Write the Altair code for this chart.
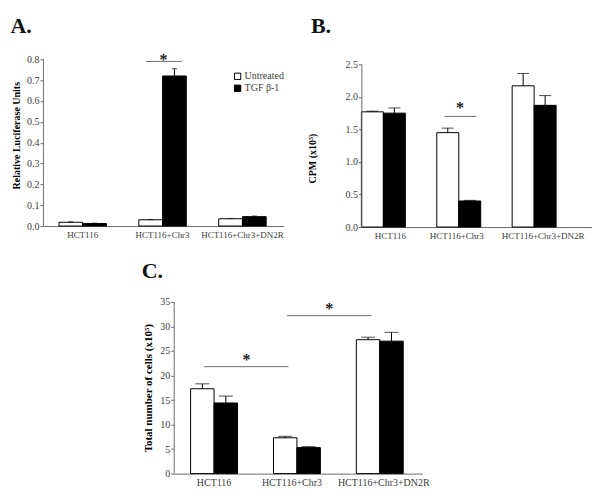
import altair as alt
import pandas as pd

SERIF = "Liberation Serif"
AXIS_GRAY = "#6e6e6e"
LABEL_GRAY = "#3c3c3c"

groups = ["HCT116", "HCT116+Chr3", "HCT116+Chr3+DN2R"]
treatments = ["Untreated", "TGF β-1"]

# Panel A: Relative Luciferase Units
a_untreated = [0.018, 0.030, 0.035]
a_untreated_sd = [0.002, 0.001, 0.001]
a_tgf = [0.012, 0.720, 0.045]
a_tgf_sd = [0.002, 0.035, 0.003]

# Panel B: CPM (x10^5)
b_untreated = [1.77, 1.45, 2.17]
b_untreated_sd = [0.01, 0.07, 0.19]
b_tgf = [1.75, 0.40, 1.87]
b_tgf_sd = [0.08, 0.01, 0.15]

# Panel C: total number of cells (x10^5)
c_untreated = [17.3, 7.3, 27.3]
c_untreated_sd = [1.0, 0.3, 0.5]
c_tgf = [14.4, 5.3, 27.0]
c_tgf_sd = [1.4, 0.2, 1.8]

# significance brackets: (from group, to group, level)
a_sig = [("HCT116+Chr3", "HCT116+Chr3", 0.79)]
b_sig = [("HCT116+Chr3", "HCT116+Chr3", 1.70)]
c_sig = [("HCT116", "HCT116+Chr3", 21.8), ("HCT116+Chr3", "HCT116+Chr3+DN2R", 32.2)]


def make_df(unt, unt_sd, tgf, tgf_sd):
    rows = []
    for g, v, s in zip(groups, unt, unt_sd):
        rows.append({"group": g, "treatment": treatments[0], "value": v, "top": v + s})
    for g, v, s in zip(groups, tgf, tgf_sd):
        rows.append({"group": g, "treatment": treatments[1], "value": v, "top": v + s})
    return pd.DataFrame(rows)


def make_sig(sig):
    return pd.DataFrame([{"g1": a, "g2": b, "level": y, "star": "*"} for a, b, y in sig])


def panel(df, sig, ymax, ystep, ytop, fmt, ytitle, width, height, xscale, title,
          title_offset, title_dx, fs_x, fs_y, fs_t, tpad, title_y, cap, cap_dx,
          sig_bp, star_bp, star_dx, star_dy, label_offset=None, legend=False):
    ticks = [round(i * ystep, 6) for i in range(int(round(ymax / ystep)) + 1)]
    yscale = alt.Scale(domain=[0, ytop], nice=False, zero=True)
    axis_kw = dict(values=ticks, format=fmt, grid=False, title=ytitle, labelOverlap=False,
                   labelFont=SERIF, labelFontSize=fs_y, labelColor=LABEL_GRAY,
                   tickColor=AXIS_GRAY, domain=False, tickSize=3,
                   labelPadding=1, titleFont=SERIF, titleFontWeight="bold",
                   titleFontSize=fs_t, titleColor="black", titlePadding=tpad)
    if title_y is not None:
        axis_kw["titleY"] = title_y
    yaxis = alt.Axis(**axis_kw)

    def Y(field):
        return alt.Y(field, type="quantitative", scale=yscale, axis=yaxis)

    xaxis_kw = dict(title=None, labelAngle=0, ticks=False, domainColor=AXIS_GRAY,
                    labelFont=SERIF, labelFontSize=fs_x, labelColor=LABEL_GRAY,
                    labelPadding=4, labelOverlap=False)
    if label_offset is not None:
        xaxis_kw["labelOffset"] = {
            "condition": [
                {"test": f"datum.value == '{groups[0]}'", "value": label_offset[0]},
                {"test": f"datum.value == '{groups[1]}'", "value": label_offset[1]},
            ],
            "value": label_offset[2],
        }
    x = alt.X("group:N", sort=groups, scale=alt.Scale(**xscale), axis=alt.Axis(**xaxis_kw))
    xoff = alt.XOffset("treatment:N", sort=treatments,
                       scale=alt.Scale(paddingInner=0, paddingOuter=0))
    if legend:
        leg = alt.Legend(title=None, orient="none", legendX=width - 51, legendY=12,
                         symbolType="square", symbolSize=40, symbolStrokeColor="black",
                         symbolStrokeWidth=1, labelFont=SERIF, labelFontSize=10,
                         labelColor=LABEL_GRAY, rowPadding=0, labelOffset=2)
    else:
        leg = None
    fill = alt.Fill("treatment:N", sort=treatments,
                    scale=alt.Scale(domain=treatments, range=["white", "black"]), legend=leg)
    base = alt.Chart(df)
    bars = base.mark_bar(stroke="black", strokeWidth=1).encode(
        x=x, xOffset=xoff, y=Y("value"), fill=fill)
    err = base.mark_rule(color="black", strokeWidth=1).encode(
        x=x, xOffset=xoff, y=Y("value"), y2="top")
    caps = base.mark_tick(color="black", thickness=1, size=cap, xOffset=cap_dx).encode(
        x=x, xOffset=xoff, y=Y("top"))
    axis_line = alt.Chart(pd.DataFrame({"lo": [0.0], "hi": [ymax]})).mark_rule(
        color=AXIS_GRAY, strokeWidth=1).encode(x=alt.value(0.5), y=Y("lo"), y2="hi")
    sdf = alt.Chart(sig)
    lines = sdf.mark_rule(color=AXIS_GRAY, strokeWidth=1).encode(
        x=alt.X("g1:N", sort=groups, bandPosition=sig_bp[0]),
        x2=alt.X2("g2", bandPosition=sig_bp[1]),
        y=Y("level"))
    stars = sdf.mark_text(font=SERIF, fontSize=16, fontWeight="bold", baseline="alphabetic",
                          dy=star_dy, dx=star_dx, color="#222").encode(
        x=alt.X("g1:N", sort=groups, bandPosition=star_bp),
        y=Y("level"), text="star:N")
    return alt.layer(bars, err, caps, axis_line, lines, stars).properties(
        width=width, height=height,
        title=alt.TitleParams(title, anchor="start", frame="bounds", font=SERIF,
                              fontSize=22, fontWeight="bold", color="#111",
                              offset=title_offset, dx=title_dx))


chart_a = panel(make_df(a_untreated, a_untreated_sd, a_tgf, a_tgf_sd), make_sig(a_sig),
                0.8, 0.1, 0.8, ".1f", "Relative Luciferase Units", 241, 167,
                dict(paddingInner=0.406, paddingOuter=0.209, align=0.48),
                "A.", 14, -1, 9, 10, 10, 5, 76, 5, 0, (0.15, 0.91), 0.52, 0, 4,
                legend=True)
chart_b = panel(make_df(b_untreated, b_untreated_sd, b_tgf, b_tgf_sd), make_sig(b_sig),
                2.5, 0.5, 2.577, ".1f", "CPM (x10⁵)", 231, 168,
                dict(paddingInner=0.417, paddingOuter=0.238, align=0),
                "B.", 21, 3, 9, 10, 10, 27, 99, 12, 5, (0.18, 0.9), 0.53, 0, -3,
                label_offset=(7, -2, 9))
chart_c = panel(make_df(c_untreated, c_untreated_sd, c_tgf, c_tgf_sd), make_sig(c_sig),
                35, 5, 35, "d", "Total number of cells (x10⁵)", 249, 172,
                dict(paddingInner=0.434, paddingOuter=0.217, align=0.47),
                "C.", 14, -1, 10, 10, 11, 6, None, 14, 6, (0.29, 0.32), 1.0, 9, -2,
                label_offset=(0, -5, 4))

spacer = alt.Chart(pd.DataFrame({"v": [0]})).mark_rule(strokeOpacity=0).encode(
    x=alt.value(0)).properties(width=99, height=10)

top = alt.hconcat(chart_a, chart_b, spacing=23).resolve_scale(
    fill="independent", xOffset="independent")
bottom = alt.hconcat(spacer, chart_c, spacing=0).resolve_scale(
    fill="independent", xOffset="independent")

chart = alt.vconcat(top, bottom, spacing=20).resolve_scale(
    fill="independent", xOffset="independent").properties(
    padding={"left": 2, "top": 7, "right": 0, "bottom": 0},
    background="white").configure_view(strokeWidth=0)

chart.save("out.html", embed_options={"renderer": "svg", "actions": False})
